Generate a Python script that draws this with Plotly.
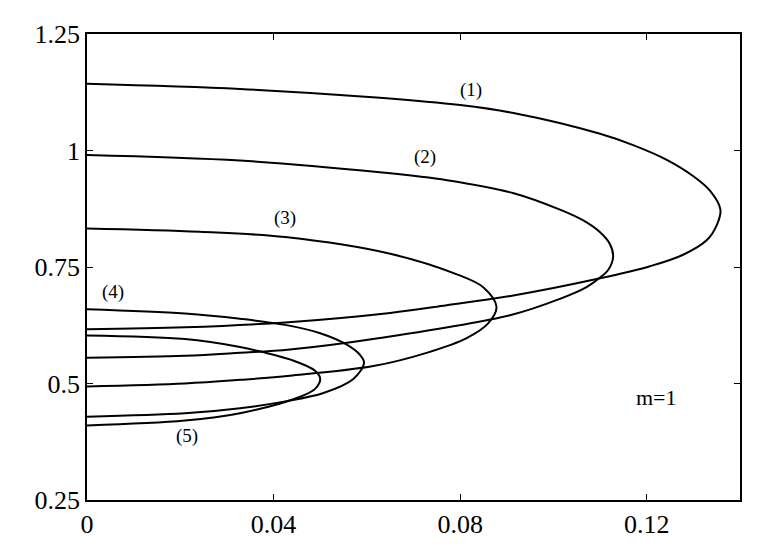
import plotly.graph_objects as go

# points, going from the top branch round the tip to the bottom branch
x1 = [0, 0.0328, 0.0628, 0.0800, 0.0914, 0.1100, 0.1171, 0.1243, 0.1300, 0.1336, 0.1358,
      0.1350, 0.1329, 0.1278, 0.1207, 0.1100, 0.0914, 0.0771, 0.0650, 0.0425, 0.0210, 0]
y1 = [1.1433, 1.1321, 1.1132, 1.0974, 1.0805, 1.0359, 1.0115, 0.9799, 0.9447, 0.9132, 0.8732,
      0.8395, 0.8079, 0.7763, 0.7517, 0.7258, 0.6889, 0.6679, 0.6515, 0.6311, 0.6205, 0.6163]

x2 = [0, 0.0328, 0.0628, 0.0772, 0.0913, 0.1014, 0.1064, 0.1100, 0.1121, 0.1128,
      0.1118, 0.1100, 0.1071, 0.1014, 0.0907, 0.0628, 0.0435, 0.0328, 0.0210, 0]
y2 = [0.9904, 0.9784, 0.9532, 0.9363, 0.9089, 0.8732, 0.8500, 0.8247, 0.7995, 0.7721,
      0.7447, 0.7273, 0.7068, 0.6816, 0.6464, 0.5974, 0.5727, 0.5658, 0.5595, 0.5553]

x3 = [0, 0.0242, 0.0425, 0.0650, 0.0793, 0.0850, 0.0878,
      0.0860, 0.0814, 0.0728, 0.0614, 0.0435, 0.0328, 0.0210, 0]
y3 = [0.8325, 0.8254, 0.8142, 0.7784, 0.7342, 0.7062, 0.6641,
      0.6289, 0.5974, 0.5658, 0.5374, 0.5167, 0.5078, 0.5000, 0.4936]

x4 = [0, 0.0210, 0.0328, 0.0425, 0.0500, 0.0557, 0.0585, 0.0594,
      0.0571, 0.0507, 0.0425, 0.0328, 0.0210, 0]
y4 = [0.6591, 0.6500, 0.6389, 0.6258, 0.6079, 0.5833, 0.5617, 0.5447,
      0.5096, 0.4795, 0.4616, 0.4468, 0.4359, 0.4289]

x5 = [0, 0.0210, 0.0328, 0.0375, 0.0435, 0.0489, 0.0500,
      0.0489, 0.0450, 0.0328, 0.0210, 0]
y5 = [0.6031, 0.5953, 0.5784, 0.5679, 0.5517, 0.5273, 0.5096,
      0.4885, 0.4689, 0.4363, 0.4205, 0.4100]

curve_labels = ["(1)", "(2)", "(3)", "(4)", "(5)"]
label_x = [0.0823, 0.0724, 0.0424, 0.0056, 0.0214]
label_y = [1.1300, 0.9870, 0.8550, 0.6960, 0.3870]

x_ticks = [0, 0.04, 0.08, 0.12]
x_ticktext = ["0", "0.04", "0.08", "0.12"]
y_ticks = [0.25, 0.5, 0.75, 1, 1.25]
y_ticktext = ["0.25", "0.5", "0.75", "1", "1.25"]

FONT = "Liberation Serif, Times New Roman, serif"

fig = go.Figure()
for xs, ys in [(x1, y1), (x2, y2), (x3, y3), (x4, y4), (x5, y5)]:
    fig.add_trace(go.Scatter(
        x=xs, y=ys, mode="lines",
        line=dict(color="black", width=2, shape="spline", smoothing=1.0),
        showlegend=False, hoverinfo="skip",
    ))

for text, lx, ly in zip(curve_labels, label_x, label_y):
    fig.add_annotation(x=lx, y=ly, text=text, showarrow=False,
                       font=dict(family=FONT, size=19, color="black"))

fig.add_annotation(x=0.1221, y=0.4690, text="m=1", showarrow=False,
                   font=dict(family=FONT, size=22, color="black"))

axis_style = dict(
    showgrid=False, zeroline=False, showline=True, linecolor="black",
    linewidth=1.5, mirror="ticks", ticks="inside", ticklen=6,
    tickcolor="black", tickwidth=1,
    tickfont=dict(family=FONT, size=26, color="black"),
)

# the page body adds an 8px offset, so the figure is 8px smaller than the window
fig.update_layout(
    width=769, height=545,
    plot_bgcolor="white", paper_bgcolor="white",
    margin=dict(l=79, r=37, t=17, b=53),
    xaxis=dict(range=[0, 0.14], tickvals=x_ticks, ticktext=x_ticktext, **axis_style),
    yaxis=dict(range=[0.25, 1.25], tickvals=y_ticks, ticktext=y_ticktext, **axis_style),
)

fig.write_html("out.html")
